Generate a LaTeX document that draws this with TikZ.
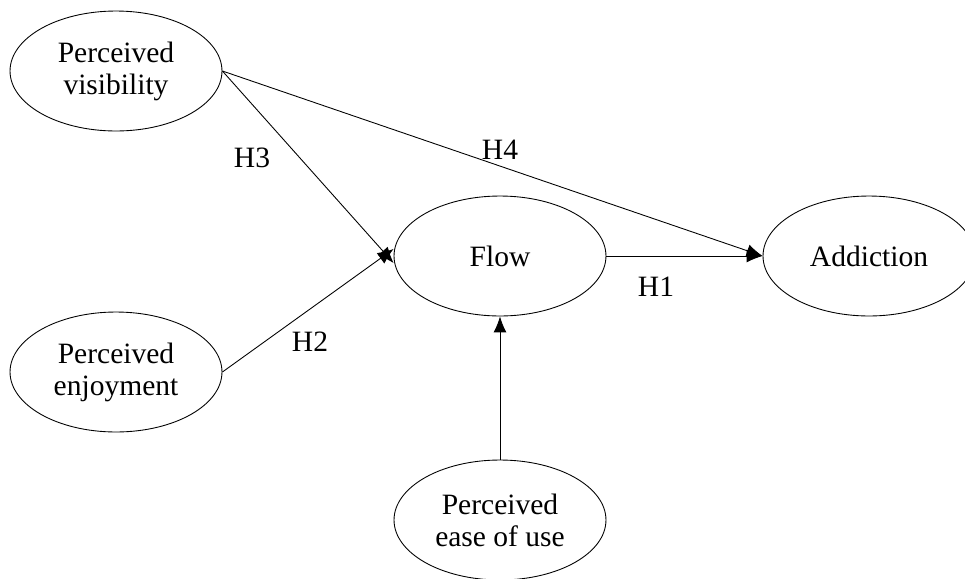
\documentclass[tikz,border=0pt]{standalone}
\usepackage{fontspec}
\setmainfont{Liberation Serif}
\usepackage{tikz}
\usetikzlibrary{shapes.geometric, arrows.meta, positioning}

\begin{document}
\begin{tikzpicture}[x=0.02cm, y=-0.02cm,
    construct/.style={ellipse, draw, line width=0.5pt, inner sep=0pt,
        minimum width=4.24cm, minimum height=2.4cm, align=center,
        font=\fontsize{16.8}{18.2}\selectfont},
    hyp/.style={font=\fontsize{16.8}{18.2}\selectfont},
    path/.style={line width=0.5pt, -{Latex[length=0.32cm, width=0.26cm]}}]
    % Page frame
    \clip (0,0) rectangle (965,579);

    % Constructs
    \node[construct] (vis) at (116,71) {Perceived\\visibility};
    \node[construct] (enj) at (116,372) {Perceived\\enjoyment};
    \node[construct] (flow) at (500,256) {Flow};
    \node[construct] (add) at (869,256) {Addiction};
    \node[construct] (ease) at (500,520) {Perceived\\ease of use};

    % Paths
    \draw[path] (vis.east) -- ([yshift=-4]flow.west);
    \draw[path] (vis.east) -- (add.west);
    \draw[path] (enj.east) -- ([yshift=4]flow.west);
    \draw[path] (flow.east) -- (add.west);
    \draw[path] (ease.north) -- (flow.south);

    % Hypotheses
    \node[hyp] (h1) at (656,287) {H1};
    \node[hyp] (h2) at (310,342) {H2};
    \node[hyp] (h3) at (252,158) {H3};
    \node[hyp] (h4) at (500,150) {H4};
\end{tikzpicture}
\end{document}
